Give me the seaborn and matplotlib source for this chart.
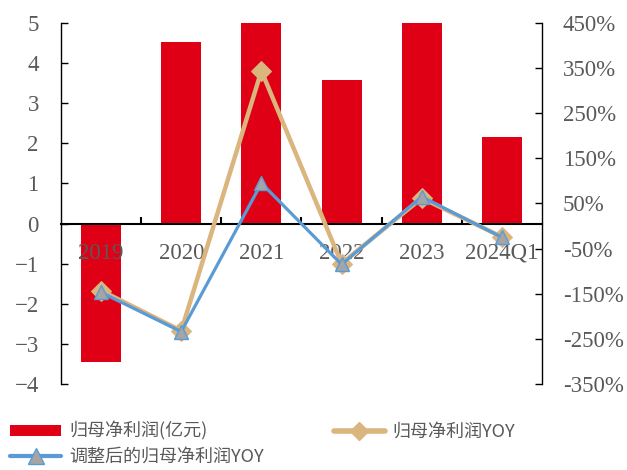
import matplotlib
matplotlib.use("Agg")
import matplotlib.pyplot as plt
import seaborn as sns
import pandas as pd
import numpy as np
from matplotlib.ticker import FixedLocator, FuncFormatter
from matplotlib.lines import Line2D
from matplotlib.patches import Patch

categories = ["2019", "2020", "2021", "2022", "2023", "2024Q1"]
net_profit = [-3.45, 4.53, 20.1, 3.57, 5.77, 2.16]          # 亿元
yoy = [-143, -232, 344, -83, 62, -24]                        # %
adj_yoy = [-147, -234, 95, -85, 65, -25]                     # %
left_ticks = [-4, -3, -2, -1, 0, 1, 2, 3, 4, 5]
right_ticks = [-350, -250, -150, -50, 50, 150, 250, 350, 450]

bar_label = "归母净利润(亿元)"
yoy_label = "归母净利润YOY"
adj_label = "调整后的归母净利润YOY"

RED = "#E00016"
TAN = "#DBB57E"
BLUE = "#5B9BD5"
GRAY_FILL = "#A5A5A5"
TXT = "#595959"

sns.set_theme(style="white")
plt.rcParams["font.family"] = ["Liberation Serif", "DejaVu Serif"]

df = pd.DataFrame({"cat": categories, "np": net_profit, "yoy": yoy, "adj": adj_yoy})

fig = plt.figure(figsize=(6.27, 4.70), dpi=100)
ax = fig.add_axes([61 / 627, 1 - 384 / 470, (542 - 61) / 627, (384 - 23) / 470])

sns.barplot(data=df, x="cat", y="np", color=RED, width=0.5, ax=ax,
            saturation=1, edgecolor="none")
ax.set_axisbelow(False)
ax.set_xlim(-0.5, 5.5)
ax.set_ylim(-4, 5)
ax.set_xlabel("")
ax.set_ylabel("")

for s in ["top", "right"]:
    ax.spines[s].set_visible(False)
ax.spines["bottom"].set_position(("data", 0))
ax.spines["bottom"].set_color("black")
ax.spines["bottom"].set_linewidth(1.5)
ax.spines["left"].set_color("black")
ax.spines["left"].set_linewidth(1.0)

ax.yaxis.set_major_locator(FixedLocator(left_ticks))
ax.tick_params(axis="y", direction="in", length=5, width=1, color="black",
               pad=16, labelsize=16.5, labelcolor=TXT, left=True)
ax.set_xticks(range(len(categories)))
ax.set_xticklabels(categories)
ax.set_xticks(np.arange(0.5, len(categories) - 0.5, 1.0), minor=True)
ax.tick_params(axis="x", which="major", length=0, pad=14, labelsize=16.5, labelcolor=TXT)
ax.tick_params(axis="x", which="minor", direction="in", length=5, width=1.5,
               color="black", bottom=True)

ax2 = ax.twinx()
sns.lineplot(data=df, x="cat", y="yoy", ax=ax2, color=TAN, linewidth=3.2,
             marker="D", markersize=10, markerfacecolor=TAN, markeredgecolor=TAN,
             sort=False)
sns.lineplot(data=df, x="cat", y="adj", ax=ax2, color=BLUE, linewidth=2.3,
             marker="^", markersize=9.5, markerfacecolor=GRAY_FILL,
             markeredgecolor=BLUE, markeredgewidth=1.0, sort=False)
ax2.set_xlim(-0.5, 5.5)
ax2.set_ylim(-350, 450)
ax2.set_xlabel("")
ax2.set_ylabel("")
for s in ["top", "left", "bottom"]:
    ax2.spines[s].set_visible(False)
ax2.spines["right"].set_color("black")
ax2.spines["right"].set_linewidth(1.0)
ax2.yaxis.set_major_locator(FixedLocator(right_ticks))
ax2.yaxis.set_major_formatter(FuncFormatter(lambda v, p: f"{int(v)}%"))
ax2.tick_params(axis="y", direction="in", length=5, width=1, color="black",
                pad=15, labelsize=16.5, labelcolor=TXT, right=True)

handles = [
    Patch(facecolor=RED, edgecolor="none"),
    Line2D([], [], color=BLUE, lw=3, marker="^", markersize=11,
           markerfacecolor=GRAY_FILL, markeredgecolor=BLUE),
    Line2D([], [], color=TAN, lw=4, marker="D", markersize=9,
           markerfacecolor=TAN, markeredgecolor=TAN),
]
labels = [bar_label, adj_label, yoy_label]
leg = fig.legend(handles, labels, ncol=2, loc="upper left",
                 bbox_to_anchor=(0.005, 0.118), frameon=False,
                 prop={"family": ["Noto Sans CJK SC", "DejaVu Sans"], "size": 13},
                 handlelength=2.8, handleheight=0.5, handletextpad=0.45,
                 columnspacing=3.9, labelspacing=0.4, borderaxespad=0)
for t in leg.get_texts():
    t.set_color(TXT)

fig.savefig("out.png", dpi=100)
